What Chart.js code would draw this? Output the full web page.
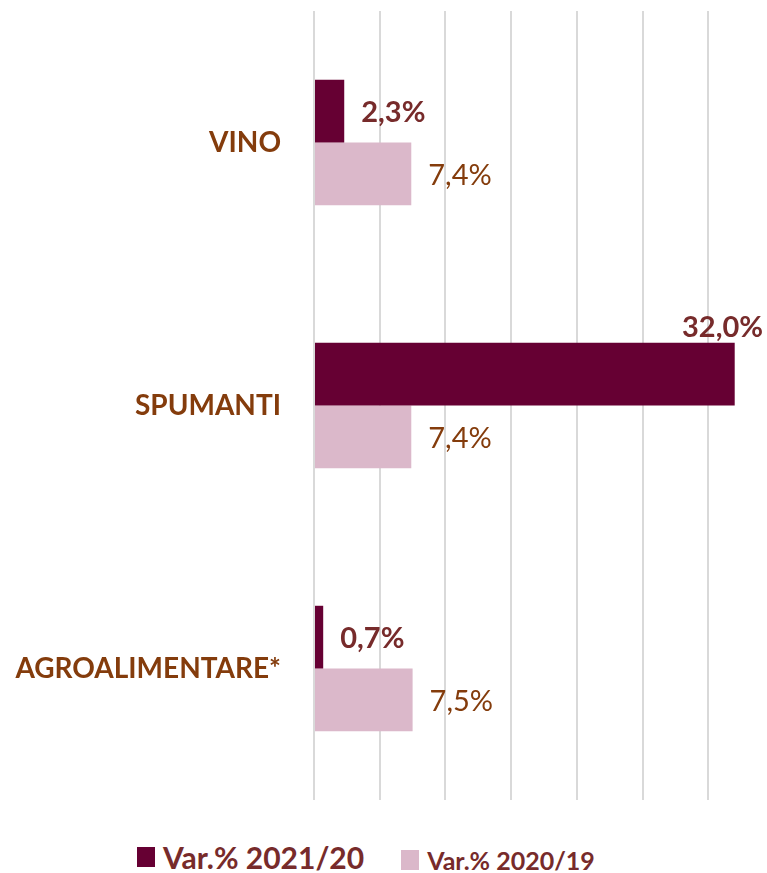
<!DOCTYPE html>
<html>
<head>
<meta charset="utf-8">
<script src="https://cdn.jsdelivr.net/npm/chart.js@4.4.1/dist/chart.umd.min.js"></script>
<style>
    body { margin: 0; background: #ffffff; }
    #contenitore { position: relative; width: 767px; height: 873px; }
    #legenda { position: absolute; left: 137px; top: 839px; display: flex; align-items: flex-end; font-family: Lato, 'Open Sans', sans-serif; font-weight: bold; color: #772b2b; }
    .voce { display: flex; align-items: center; margin-right: 37px; }
    .quadrato { width: 18px; height: 20px; margin-right: 8px; }
</style>
</head>
<body>
<div id="contenitore">
    <canvas id="grafico" width="767" height="820"></canvas>
    <div id="legenda"></div>
</div>
<script>
const categorie = ['VINO', 'SPUMANTI', 'AGROALIMENTARE*'];
const var2021 = [2.3, 32.0, 0.7];
const var2020 = [7.4, 7.4, 7.5];
const etichetteSerie = ['Var.% 2021/20', 'Var.% 2020/19'];
const coloriSerie = ['#660033', '#dbb8ca'];
const passoGriglia = 5;
const massimoAsse = 34;

function formatta(valore) {
    return valore.toFixed(1).replace('.', ',') + '%';
}

// etichette dei valori accanto alle barre
const etichetteValori = {
    id: 'etichetteValori',
    afterDatasetsDraw(chart) {
        const ctx = chart.ctx;
        chart.data.datasets.forEach((ds, i) => {
            const meta = chart.getDatasetMeta(i);
            meta.data.forEach((barra, j) => {
                const testo = formatta(ds.data[j]);
                ctx.save();
                if (i === 0) {
                    ctx.font = 'bold 29px Lato';
                    ctx.fillStyle = '#772b2b';
                } else {
                    ctx.font = '29px Lato';
                    ctx.fillStyle = '#843c0c';
                }
                const larghezza = ctx.measureText(testo).width;
                const x = barra.x + 17;
                if (x + larghezza > chart.width - 2) {
                    // non c'è spazio a destra: sopra la barra
                    ctx.textAlign = 'right';
                    ctx.textBaseline = 'bottom';
                    ctx.fillText(testo, chart.width - 4, barra.y - barra.height / 2 - 1);
                } else {
                    ctx.textAlign = 'left';
                    ctx.textBaseline = 'middle';
                    ctx.fillText(testo, x, barra.y + 2);
                }
                ctx.restore();
            });
        });
    }
};

const grafico = new Chart(document.getElementById('grafico'), {
    type: 'bar',
    data: {
        labels: categorie,
        datasets: [
            { label: etichetteSerie[0], data: var2021, backgroundColor: coloriSerie[0] },
            { label: etichetteSerie[1], data: var2020, backgroundColor: coloriSerie[1] }
        ]
    },
    options: {
        indexAxis: 'y',
        responsive: false,
        animation: false,
        categoryPercentage: 0.477,
        barPercentage: 1,
        layout: { padding: { top: 11, right: 6, bottom: 20, left: 0 } },
        plugins: {
            legend: { display: false },
            tooltip: { enabled: false }
        },
        scales: {
            x: {
                min: 0,
                max: massimoAsse,
                afterBuildTicks: function (scale) {
                    scale.ticks = scale.ticks.filter(t => t.value % passoGriglia === 0);
                },
                afterFit: function (scale) {
                    scale.height = 0;
                    scale.paddingLeft = 0;
                    scale.paddingRight = 0;
                },
                ticks: { display: false, stepSize: passoGriglia },
                grid: { color: '#d9d9d9', lineWidth: 2, drawTicks: false },
                border: { display: false }
            },
            y: {
                afterFit: function (scale) {
                    scale.width = 314;
                    scale.paddingTop = 0;
                    scale.paddingBottom = 0;
                },
                ticks: {
                    padding: 33,
                    color: '#843c0c',
                    font: { family: 'Lato', size: 28, weight: 'bold' }
                },
                grid: { display: false, drawTicks: false },
                border: { display: false }
            }
        }
    },
    plugins: [etichetteValori]
});

// legenda HTML con due dimensioni di testo diverse
const dimensioniLegenda = [30, 25];
const legenda = document.getElementById('legenda');
etichetteSerie.forEach((etichetta, i) => {
    const voce = document.createElement('div');
    voce.className = 'voce';
    voce.innerHTML = `<span class="quadrato" style="background:${coloriSerie[i]}"></span>` +
        `<span style="font-size:${dimensioniLegenda[i]}px">${etichetta}</span>`;
    legenda.appendChild(voce);
});
</script>
</body>
</html>
